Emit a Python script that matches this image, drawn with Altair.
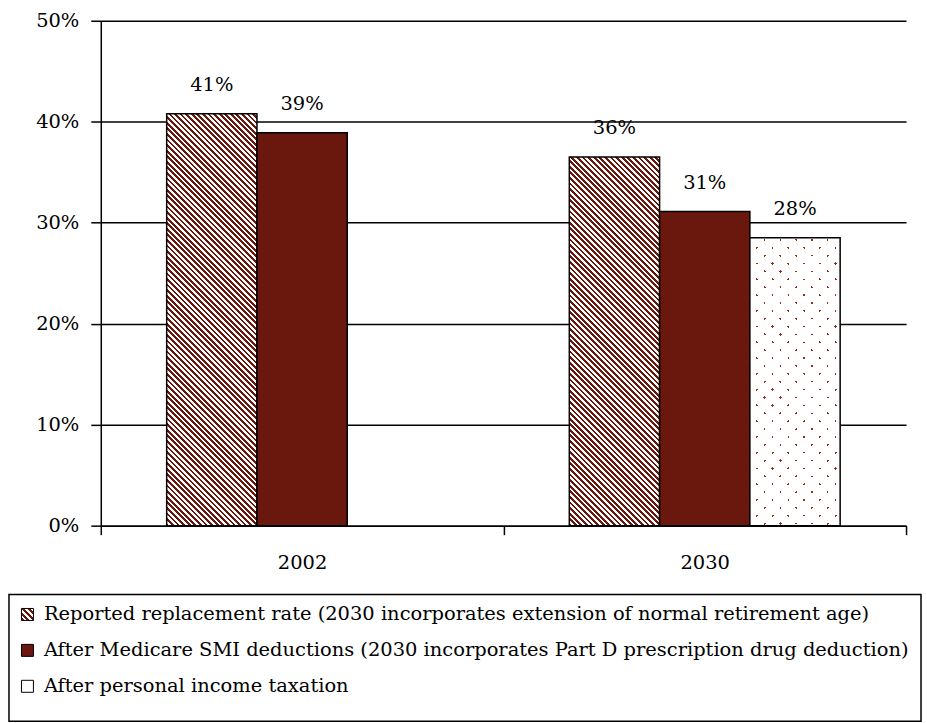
import altair as alt
import pandas as pd

# ---------------- data ----------------
series_names = [
    "Reported replacement rate (2030 incorporates extension of normal retirement age)",
    "After Medicare SMI deductions (2030 incorporates Part D prescription drug deduction)",
    "After personal income taxation",
]
year_labels = ["2002", "2030"]
bar_years = ["2002", "2002", "2030", "2030", "2030"]
bar_series = [series_names[0], series_names[1], series_names[0], series_names[1], series_names[2]]
bar_values = [0.408, 0.389, 0.365, 0.311, 0.285]
bar_labels = ["41%", "39%", "36%", "31%", "28%"]
y_ticks = [0, 0.1, 0.2, 0.3, 0.4, 0.5]

df = pd.DataFrame({"year": bar_years, "series": bar_series, "value": bar_values, "label": bar_labels})
legend_df = pd.DataFrame({"series": series_names})

# ---------------- style ----------------
PLOT_W, PLOT_H, Y_MAX = 807, 506, 0.5
AXIS_EXT = 92
PAD_L = 8
LEG_W, LEG_H = 822, 127
DARK = "#6a180e"
FONT = "DejaVu Serif"
FS = 19.5
PAD_OUTER = 0.73
BAR_W = PLOT_W / 2 / (3 + 2 * PAD_OUTER)
CLEAR = "rgba(255,255,255,0)"


def stripe_stops(n, c_on, c_off, frac):
    stops = []
    for k in range(n):
        a, b, c = k / n, (k + frac) / n, (k + 1) / n
        stops += [{"offset": a, "color": c_on}, {"offset": b, "color": c_on},
                  {"offset": b, "color": c_off}, {"offset": min(c, 1.0), "color": c_off}]
    return stops


def back_grad(w, h, period, c_on, c_off, frac):
    """stripes running down-right (\\) in screen space"""
    s = (w + h) / (w * w + h * h)
    n = max(1, round((w + h) / period))
    return {"gradient": "linear", "x1": 0, "y1": 1, "x2": s * w, "y2": 1 - s * h,
            "stops": stripe_stops(n, c_on, c_off, frac)}


def fwd_grad(w, h, period, c_on, c_off, frac):
    """stripes running up-right (/) in screen space"""
    s = (w + h) / (w * w + h * h)
    n = max(1, round((w + h) / period))
    return {"gradient": "linear", "x1": 0, "y1": 0, "x2": s * w, "y2": s * h,
            "stops": stripe_stops(n, c_on, c_off, frac)}


def px_h(v):
    return v / Y_MAX * PLOT_H


base = alt.Chart(df).encode(
    x=alt.X("year:N", scale=alt.Scale(domain=year_labels, paddingInner=0, paddingOuter=0),
            axis=alt.Axis(title=None, labelAngle=0, tickBand="extent", tickSize=9, tickWidth=1.5,
                          tickColor="black", domainColor="black", domainWidth=1.5,
                          labelFont=FONT, labelFontSize=FS, labelColor="black", labelPadding=19)),
    xOffset=alt.XOffset("series:N", scale=alt.Scale(domain=series_names, paddingInner=0,
                                                    paddingOuter=PAD_OUTER)),
    y=alt.Y("value:Q", scale=alt.Scale(domain=[0, Y_MAX], nice=False),
            axis=alt.Axis(title=None, values=y_ticks, format=".0%", grid=True, gridColor="black",
                          gridWidth=1.5, tickSize=10, tickWidth=1.5, tickColor="black",
                          domainColor="black", domainWidth=1.5, labelFont=FONT, labelFontSize=FS,
                          labelColor="black", labelPadding=12, minExtent=AXIS_EXT, maxExtent=AXIS_EXT)),
)

layers = []
for yr, s, v in zip(bar_years, bar_series, bar_values):
    if s == series_names[0]:
        layers.append(
            base.transform_filter(
                (alt.datum.year == yr) & (alt.datum.series == s)
            ).mark_bar(fill=back_grad(BAR_W, px_h(v), 5.6, DARK, "white", 0.5),
                       stroke="black", strokeWidth=1.5)
        )
layers.append(
    base.transform_filter(alt.datum.series == series_names[1])
    .mark_bar(fill=DARK, stroke="black", strokeWidth=1.5)
)
for yr, s, v in zip(bar_years, bar_series, bar_values):
    if s == series_names[2]:
        h = px_h(v)
        sel = base.transform_filter((alt.datum.year == yr) & (alt.datum.series == s))
        layers.append(sel.mark_bar(fill="#9a2a22", strokeWidth=0))
        layers.append(sel.mark_bar(fill=back_grad(BAR_W, h, 16, CLEAR, "white", 0.15), strokeWidth=0))
        layers.append(sel.mark_bar(fill=fwd_grad(BAR_W, h, 16, CLEAR, "white", 0.15),
                                   stroke="black", strokeWidth=1.5))
layers.append(
    base.mark_text(font=FONT, fontSize=FS, color="black", baseline="middle", dy=-29)
    .encode(text="label:N")
)

bars = alt.layer(*layers).properties(width=PLOT_W, height=PLOT_H,
                                     view=alt.ViewBackground(stroke=None))

# ---------------- legend (box spans under the axis labels too) ----------------
leg_base = alt.Chart(legend_df).encode(
    y=alt.Y("series:N", scale=alt.Scale(type="point", domain=series_names, range=[20, 92], padding=0),
            axis=None)
)
SYM_X = 26.5 - PAD_L - AXIS_EXT
TXT_X = 43 - PAD_L - AXIS_EXT
leg_layers = [
    leg_base.transform_filter(alt.datum.series == series_names[0])
    .mark_rect(fill="white", fillOpacity=0, stroke="black", strokeWidth=1.5)
    .encode(x=alt.value(-AXIS_EXT), x2=alt.value(LEG_W), y=alt.value(0), y2=alt.value(LEG_H)),
    leg_base.transform_filter(alt.datum.series == series_names[0])
    .mark_square(size=144, fill=back_grad(12, 12, 5.5, DARK, "white", 0.5), stroke="black",
                 strokeWidth=1, opacity=1).encode(x=alt.value(SYM_X)),
    leg_base.transform_filter(alt.datum.series == series_names[1])
    .mark_square(size=144, fill=DARK, stroke="black", strokeWidth=1, opacity=1).encode(x=alt.value(SYM_X)),
    leg_base.transform_filter(alt.datum.series == series_names[2])
    .mark_square(size=144, fill="white", stroke="black", strokeWidth=1, opacity=1).encode(x=alt.value(SYM_X)),
    leg_base.mark_text(font=FONT, fontSize=FS, color="black", align="left", baseline="middle")
    .encode(x=alt.value(TXT_X), text="series:N"),
]
legend = alt.layer(*leg_layers).properties(
    width=LEG_W, height=LEG_H,
    view=alt.ViewBackground(stroke=None),
)

chart = alt.vconcat(bars, legend, spacing=21).properties(
    padding={"left": PAD_L, "top": 10, "right": 5, "bottom": 0},
    background="white",
).configure_view(stroke=None)

chart.save("out.html", embed_options={"renderer": "svg", "actions": False})
